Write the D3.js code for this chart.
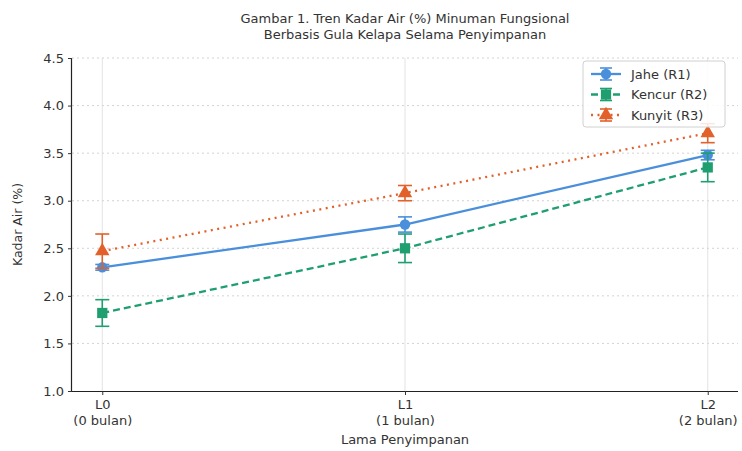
<!DOCTYPE html>
<html><head><meta charset="utf-8">
<script src="https://cdn.jsdelivr.net/npm/d3@7"></script>
<style>body{margin:0;background:#fff}svg{display:block;font-family:"DejaVu Sans",sans-serif}</style>
</head><body><svg id="c" width="742" height="451"></svg>
<script>
const categories = ["L0\n(0 bulan)", "L1\n(1 bulan)", "L2\n(2 bulan)"];
const seriesNames = ["Jahe (R1)", "Kencur (R2)", "Kunyit (R3)"];
const jahe = [2.30, 2.75, 3.48];
const kencur = [1.82, 2.50, 3.35];
const kunyit = [2.47, 3.08, 3.71];
const jaheErr = [0.03, 0.08, 0.05];
const kencurErr = [0.14, 0.15, 0.15];
const kunyitErr = [0.18, 0.08, 0.10];
const yTicks = [1.0, 1.5, 2.0, 2.5, 3.0, 3.5, 4.0, 4.5];

const series = [
  {name: seriesNames[0], v: jahe, e: jaheErr, color: "#4a8fdc", dash: null, shape: d3.symbolCircle, size: 85},
  {name: seriesNames[1], v: kencur, e: kencurErr, color: "#1f9e70", dash: "7,4", shape: d3.symbolSquare, size: 105},
  {name: seriesNames[2], v: kunyit, e: kunyitErr, color: "#e2612b", dash: "2,4.5", shape: d3.symbolTriangle, size: 90}
];

const svg = d3.select("#c");
const L = 72, R = 738, T = 58, B = 391;
const x = d3.scaleLinear().domain([-0.1, 2.1]).range([L, R]);
const y = d3.scaleLinear().domain([1.0, 4.5]).range([B, T]);

// grid
svg.append("g").selectAll("line").data(yTicks.slice(1)).join("line")
  .attr("x1", L).attr("x2", R).attr("y1", d => y(d)).attr("y2", d => y(d))
  .attr("stroke", "#c8c8c8").attr("stroke-width", 0.8).attr("stroke-dasharray", "2,3");
svg.append("g").selectAll("line").data(d3.range(categories.length)).join("line")
  .attr("x1", d => x(d)).attr("x2", d => x(d)).attr("y1", T).attr("y2", B)
  .attr("stroke", "#dcdcdc").attr("stroke-width", 0.8);

// axes
const ya = svg.append("g").attr("transform", `translate(${L},0)`)
  .call(d3.axisLeft(y).tickValues(yTicks).tickFormat(d3.format(".1f")).tickSize(4).tickPadding(4));
ya.select(".domain").attr("d", `M-0.5,${T}V${B}`).attr("stroke", "#222").attr("stroke-width", 1.2);
ya.selectAll("text").attr("font-size", 13).attr("fill", "#333").attr("font-family", "DejaVu Sans");
ya.selectAll(".tick line").attr("stroke", "#333");

const xa = svg.append("g").attr("transform", `translate(0,${B})`)
  .call(d3.axisBottom(x).tickValues([0, 1, 2]).tickFormat("").tickSize(4));
xa.select(".domain").attr("d", `M${L},0.5H${R}`).attr("stroke", "#222").attr("stroke-width", 1.2);
xa.selectAll(".tick line").attr("stroke", "#333");
xa.selectAll(".tick").each(function(d) {
  const lines = categories[d].split("\n");
  const t = d3.select(this).append("text").attr("fill", "#333").attr("font-size", 13)
    .attr("text-anchor", "middle").attr("font-family", "DejaVu Sans");
  lines.forEach((s, i) => t.append("tspan").attr("x", 0).attr("y", 18 + i * 16).text(s));
});

// labels
svg.append("text").attr("x", 405).attr("y", 444).attr("text-anchor", "middle")
  .attr("font-size", 13).attr("fill", "#333").text("Lama Penyimpanan");
svg.append("text").attr("transform", `translate(22,${(T + B) / 2}) rotate(-90)`).attr("text-anchor", "middle")
  .attr("font-size", 12.5).attr("fill", "#333").text("Kadar Air (%)");
const title = svg.append("text").attr("text-anchor", "middle").attr("font-size", 13).attr("fill", "#333");
title.append("tspan").attr("x", 405).attr("y", 23).text("Gambar 1. Tren Kadar Air (%) Minuman Fungsional");
title.append("tspan").attr("x", 405).attr("y", 39).text("Berbasis Gula Kelapa Selama Penyimpanan");

// series
const line = d3.line().x((d, i) => x(i)).y(d => y(d));
series.forEach(s => {
  const g = svg.append("g");
  g.append("path").datum(s.v).attr("d", line).attr("fill", "none").attr("stroke", s.color)
    .attr("stroke-width", 2.3).attr("stroke-dasharray", s.dash);
  s.v.forEach((v, i) => {
    const cx = x(i), y1 = y(v - s.e[i]), y2 = y(v + s.e[i]);
    g.append("line").attr("x1", cx).attr("x2", cx).attr("y1", y1).attr("y2", y2).attr("stroke", s.color).attr("stroke-width", 1.6);
    [y1, y2].forEach(yy => g.append("line").attr("x1", cx - 7).attr("x2", cx + 7).attr("y1", yy).attr("y2", yy)
      .attr("stroke", s.color).attr("stroke-width", 1.6));
    g.append("path").attr("d", d3.symbol().type(s.shape).size(s.size)())
      .attr("transform", `translate(${cx},${y(v)})`).attr("fill", s.color);
  });
});

// legend
const lg = svg.append("g").attr("transform", "translate(583,61)");
lg.append("rect").attr("width", 142).attr("height", 66).attr("rx", 3).attr("fill", "#fff")
  .attr("fill-opacity", 0.85).attr("stroke", "#d0d0d0");
series.forEach((s, i) => {
  const yy = 13 + i * 20.5;
  lg.append("line").attr("x1", 8).attr("x2", 38).attr("y1", yy).attr("y2", yy).attr("stroke", s.color)
    .attr("stroke-width", 2.3).attr("stroke-dasharray", s.dash);
  lg.append("line").attr("x1", 23).attr("x2", 23).attr("y1", yy - 6).attr("y2", yy + 6).attr("stroke", s.color).attr("stroke-width", 1.6);
  [yy - 6, yy + 6].forEach(v => lg.append("line").attr("x1", 17).attr("x2", 29).attr("y1", v).attr("y2", v).attr("stroke", s.color).attr("stroke-width", 1.6));
  lg.append("path").attr("d", d3.symbol().type(s.shape).size(s.size)()).attr("transform", `translate(23,${yy})`).attr("fill", s.color);
  lg.append("text").attr("x", 48).attr("y", yy + 4.5).attr("font-size", 13).attr("fill", "#333").text(s.name);
});
</script></body></html>
